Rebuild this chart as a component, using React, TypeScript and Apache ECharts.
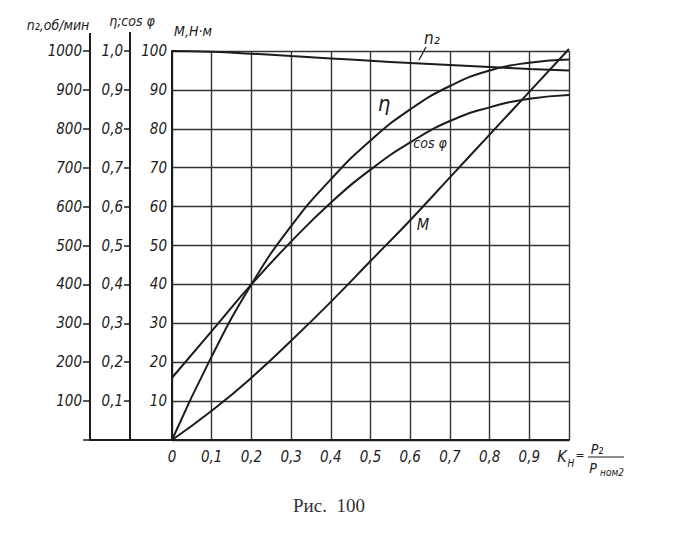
import React, { useEffect, useRef } from 'react';
import * as echarts from 'echarts';

// Load factor K_H = P2 / Pnom2
const loadFactor = [0, 0.1, 0.2, 0.3, 0.4, 0.5, 0.6, 0.7, 0.8, 0.9, 1.0];
// Rotor speed n2, rpm
const speedN2 = [1000, 998, 993, 987, 981, 975, 969, 964, 959, 954, 950];
// Efficiency η
const efficiency = [0, 0.215, 0.4, 0.55, 0.67, 0.77, 0.85, 0.91, 0.95, 0.97, 0.978];
// Power factor cos φ
const powerFactor = [0.16, 0.28, 0.4, 0.51, 0.61, 0.695, 0.765, 0.82, 0.855, 0.877, 0.887];
// Torque M, N·m
const torqueM = [0, 7.5, 16, 25.5, 35.5, 46, 56.5, 67.5, 78.5, 89.5, 100.5];

const xTickLabels = ['0', '0,1', '0,2', '0,3', '0,4', '0,5', '0,6', '0,7', '0,8', '0,9', ''];
const mTickLabels = ['', '10', '20', '30', '40', '50', '60', '70', '80', '90', '100'];
const etaTickLabels = ['', '0,1', '0,2', '0,3', '0,4', '0,5', '0,6', '0,7', '0,8', '0,9', '1,0'];
const nTickLabels = ['', '100', '200', '300', '400', '500', '600', '700', '800', '900', '1000'];

const FONT = '"DejaVu Sans Condensed", "DejaVu Sans", sans-serif';
const INK = '#1c1c1c';
const GRID = '#333333';

const pick = (labels: string[], v: number, step: number) => {
  const i = Math.round(v / step);
  return labels[i] ?? '';
};

const labelStyle = {
  fontFamily: FONT,
  fontStyle: 'italic' as const,
  fontSize: 15,
  color: INK,
};

export default function App() {
  const ref = useRef<HTMLDivElement>(null);

  useEffect(() => {
    document.body.style.margin = '0';
    if (!ref.current) return;
    const chart = echarts.init(ref.current, null, { renderer: 'svg' });

    const txt = (x: number, y: number, text: string, size: number, extra: any = {}) => ({
      type: 'text',
      x,
      y,
      style: {
        text,
        fontFamily: FONT,
        fontStyle: 'italic',
        fontSize: size,
        fill: INK,
        align: 'center',
        verticalAlign: 'middle',
        ...extra,
      },
    });

    const curve = (name: string, yAxisIndex: number, values: number[]) => ({
      name,
      type: 'line',
      yAxisIndex,
      data: loadFactor.map((k, i) => [k, values[i]]),
      smooth: 0.5,
      showSymbol: false,
      clip: false,
      lineStyle: { color: INK, width: 2 },
    });

    const option: any = {
      animation: false,
      backgroundColor: '#ffffff',
      grid: { left: 172, right: 113, top: 51, bottom: 94, containLabel: false },
      xAxis: {
        type: 'value',
        min: 0,
        max: 1,
        interval: 0.1,
        axisLine: { show: true, onZero: false, lineStyle: { color: INK, width: 2 } },
        axisTick: { show: false },
        axisLabel: {
          ...labelStyle,
          margin: 9,
          formatter: (v: number) => pick(xTickLabels, v, 0.1),
        },
        splitLine: { show: true, lineStyle: { color: GRID, width: 1.4 } },
      },
      yAxis: [
        {
          type: 'value',
          position: 'left',
          min: 0,
          max: 100,
          interval: 10,
          axisLine: { show: true, lineStyle: { color: INK, width: 2 } },
          axisTick: { show: false },
          axisLabel: {
            ...labelStyle,
            margin: 5,
            formatter: (v: number) => pick(mTickLabels, v, 10),
          },
          splitLine: { show: true, lineStyle: { color: GRID, width: 1.4 } },
        },
        {
          type: 'value',
          position: 'left',
          offset: 42,
          min: 0,
          max: 1,
          interval: 0.1,
          axisLine: { show: true, lineStyle: { color: INK, width: 2 } },
          axisTick: { show: true, length: 6, lineStyle: { color: INK, width: 1.5 } },
          axisLabel: {
            ...labelStyle,
            margin: 7,
            formatter: (v: number) => pick(etaTickLabels, v, 0.1),
          },
          splitLine: { show: false },
        },
        {
          type: 'value',
          position: 'left',
          offset: 82,
          min: 0,
          max: 1000,
          interval: 100,
          axisLine: { show: true, lineStyle: { color: INK, width: 2 } },
          axisTick: { show: true, length: 7, lineStyle: { color: INK, width: 1.5 } },
          axisLabel: {
            ...labelStyle,
            margin: 8,
            formatter: (v: number) => pick(nTickLabels, v, 100),
          },
          splitLine: { show: false },
        },
      ],
      series: [
        curve('n2', 2, speedN2),
        curve('eta', 1, efficiency),
        curve('cos', 1, powerFactor),
        curve('M', 0, torqueM),
      ],
      graphic: [
        // axis extensions above the plot and the base line under the outer scales
        { type: 'line', shape: { x1: 90, y1: 33, x2: 90, y2: 51 }, style: { stroke: INK, lineWidth: 2 } },
        { type: 'line', shape: { x1: 130, y1: 32, x2: 130, y2: 51 }, style: { stroke: INK, lineWidth: 2 } },
        { type: 'line', shape: { x1: 90, y1: 440, x2: 172, y2: 440 }, style: { stroke: INK, lineWidth: 2 } },
        // axis names
        txt(58, 25, 'n₂,об/мин', 14),
        txt(132, 21, 'η;cos φ', 14),
        txt(193, 31, 'M,Н·м', 14),
        // curve labels
        { type: 'line', shape: { x1: 419, y1: 60, x2: 426, y2: 47 }, style: { stroke: INK, lineWidth: 1.3 } },
        txt(432, 38, 'n₂', 17),
        txt(384, 103, 'η', 22),
        txt(430, 143, 'cos φ', 14),
        txt(423, 224, 'M', 16),
        // K_H = P2 / Pnom2
        txt(562, 456, 'K', 16),
        txt(571, 463, 'H', 10),
        txt(580, 455, '=', 12),
        txt(597, 449, 'P₂', 14),
        { type: 'line', shape: { x1: 588, y1: 457, x2: 624, y2: 457 }, style: { stroke: INK, lineWidth: 1.2 } },
        txt(593, 468, 'P', 14),
        txt(612, 472, 'ном2', 10),
        // caption
        {
          type: 'text',
          x: 329,
          y: 505,
          style: {
            text: 'Рис.  100',
            fontFamily: '"Liberation Serif", "DejaVu Serif", serif',
            fontSize: 19,
            fill: '#333',
            align: 'center',
            verticalAlign: 'middle',
          },
        },
      ],
    };

    chart.setOption(option);
    return () => chart.dispose();
  }, []);

  return <div ref={ref} style={{ width: 682, height: 534 }} />;
}
